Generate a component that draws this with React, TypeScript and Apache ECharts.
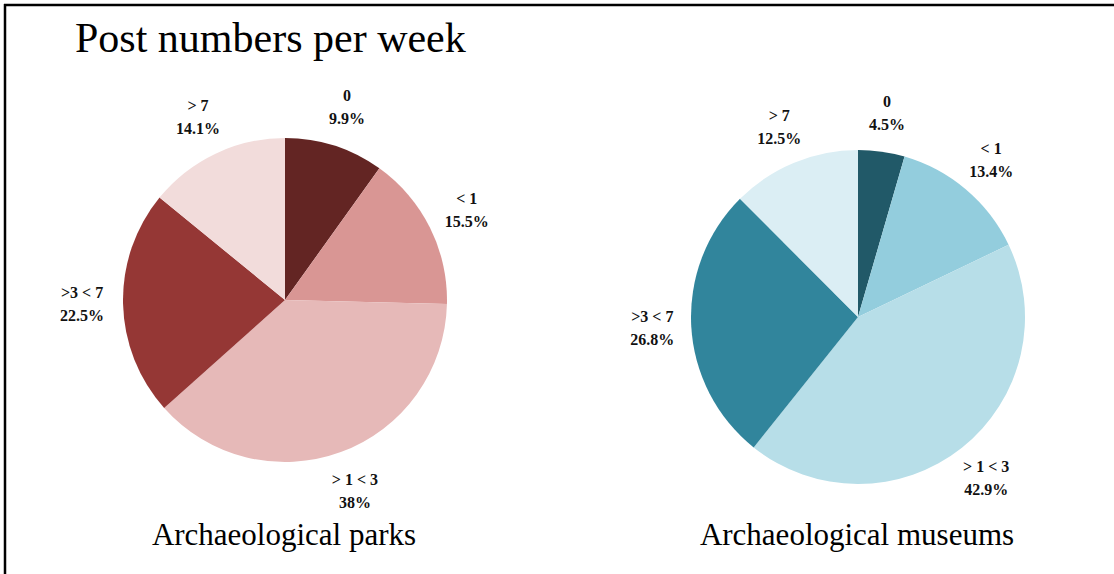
import React, { useEffect, useRef } from "react";
import * as echarts from "echarts";

const categories = ["0", "< 1", "> 1 < 3", ">3 < 7", "> 7"];
const parksValues = [9.9, 15.5, 38, 22.5, 14.1];
const museumsValues = [4.5, 13.4, 42.9, 26.8, 12.5];
const parksColors = ["#632523", "#d99694", "#e6b9b8", "#953735", "#f2dcdb"];
const museumsColors = ["#215968", "#93cddd", "#b7dee8", "#31859c", "#dbeef4"];
const titleText = "Post numbers per week";
const captions = ["Archaeological parks", "Archaeological museums"];

const SERIF = '"Liberation Serif", "Times New Roman", "DejaVu Serif", serif';

function makeSeries(values: number[], colors: string[], center: [number, number], r: number, labelR: number) {
  const data = categories.map((name, i) => ({ name, value: values[i], itemStyle: { color: colors[i] } }));
  return [
    {
      type: "pie",
      center,
      radius: r,
      startAngle: 90,
      clockwise: true,
      silent: true,
      label: { show: false },
      labelLine: { show: false },
      itemStyle: { borderWidth: 0 },
      emphasis: { disabled: true },
      data,
    },
    {
      type: "pie",
      center,
      radius: [r, labelR],
      startAngle: 90,
      clockwise: true,
      silent: true,
      itemStyle: { color: "rgba(0,0,0,0)", borderWidth: 0 },
      emphasis: { disabled: true },
      labelLine: { show: false },
      label: {
        show: true,
        position: "inside",
        formatter: "{b}\n{c}%",
        fontFamily: SERIF,
        fontWeight: "bold",
        fontSize: 16,
        lineHeight: 23,
        padding: [6, 0, 0, 0],
        color: "#111",
      },
      data: categories.map((name, i) => ({ name, value: values[i] })),
    },
  ];
}

export default function App() {
  const ref = useRef<HTMLDivElement>(null);
  useEffect(() => {
    document.body.style.margin = "0";
    const chart = echarts.init(ref.current!, null, { renderer: "svg" });
    chart.setOption({
      animation: false,
      backgroundColor: "#ffffff",
      title: [
        {
          text: titleText,
          left: 70,
          top: 12,
          textStyle: { fontFamily: SERIF, fontWeight: "normal", fontSize: 42, color: "#000" },
        },
        {
          text: captions[0],
          left: 279,
          top: 514,
          textAlign: "center",
          textStyle: { fontFamily: SERIF, fontWeight: "normal", fontSize: 31, color: "#000" },
        },
        {
          text: captions[1],
          left: 852,
          top: 514,
          textAlign: "center",
          textStyle: { fontFamily: SERIF, fontWeight: "normal", fontSize: 31, color: "#000" },
        },
      ],
      graphic: [
        { type: "line", shape: { x1: 4, y1: 5, x2: 1114, y2: 5 }, style: { stroke: "#000", lineWidth: 2.5 } },
        { type: "line", shape: { x1: 5, y1: 4, x2: 5, y2: 574 }, style: { stroke: "#000", lineWidth: 2.5 } },
      ],
      series: [
        ...makeSeries(parksValues, parksColors, [285, 300], 162, 238),
        ...makeSeries(museumsValues, museumsColors, [858, 317], 167, 239),
      ],
    });
    return () => chart.dispose();
  }, []);
  return <div ref={ref} style={{ width: 1114, height: 574 }} />;
}
